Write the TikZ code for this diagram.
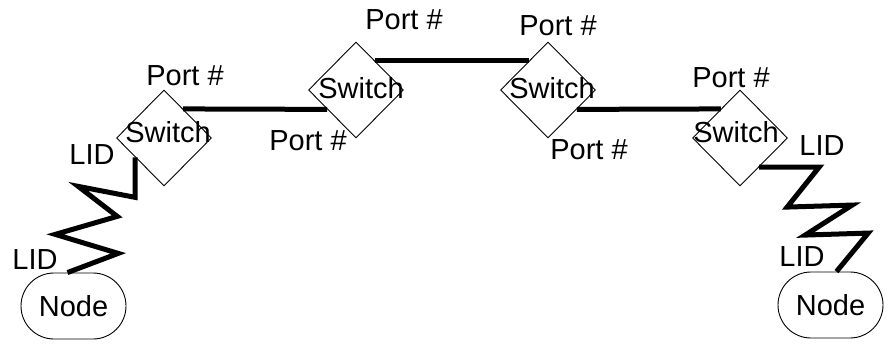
\documentclass[tikz,border=0pt]{standalone}
\usepackage{fontspec}
\setmainfont{Liberation Sans}
\usetikzlibrary{shapes.geometric,shapes.misc,calc}

\tikzset{
  switchbox/.style={draw, diamond, minimum width=95pt, minimum height=96pt, inner sep=0pt, line width=0.9pt},
  hostbox/.style={draw, rounded rectangle, minimum width=105pt, minimum height=66pt, inner sep=0pt, line width=0.9pt, font=\fontsize{29}{34}\selectfont},
  tag/.style={anchor=base, inner sep=0pt, font=\fontsize{29}{34}\selectfont},
  link/.style={line width=5pt},
}

\begin{document}
\begin{tikzpicture}[x=1pt, y=-1pt]
      \useasboundingbox (0,0) rectangle (891,343);
      % switches
      \foreach \n/\x/\y/\tx/\ty in {1/164/138/168/142, 2/356/90/361/98, 3/548/90/552/98, 4/740/138/736/142}
        {
        \node[switchbox] (s\n) at (\x,\y) {};
        \node[tag] (t\n) at (\tx,\ty) {Switch};
        }
      % end nodes
      \node[hostbox] (n1) at (73.5,306) {Node};
      \node[hostbox] (n2) at (830.5,305) {Node};
      % port links
      \draw[link] ($(s1.north)!0.4!(s1.east)$) -- ($(s2.west)!0.4!(s2.south)$);
      \draw[link] ($(s2.north)!0.4!(s2.east)$) -- ($(s3.north)!0.4!(s3.west)$);
      \draw[link] ($(s3.east)!0.4!(s3.south)$) -- ($(s4.north)!0.4!(s4.west)$);
      % LID links
      \draw[link] ($(s1.west)!0.4!(s1.south)$) -- ++(0,40) -- ++(-57,-11) -- ++(39,30)
        -- ++(-62,18) -- ++(63,19) -- ([xshift=-6pt]n1.north);
      \draw[link] ($(s4.east)!0.6!(s4.south)$) -- ++(60,0) -- ++(-32,40) -- ++(65,-2)
        -- ++(-47,30) -- ++(63,-2) -- ([xshift=6pt]n2.north);
      % port labels
      \node[tag] (p1) at (185,85) {Port \#};
      \node[tag] (p2) at (308,150) {Port \#};
      \node[tag] (p3) at (404,29) {Port \#};
      \node[tag] (p4) at (558,35) {Port \#};
      \node[tag] (p5) at (589,159) {Port \#};
      \node[tag] (p6) at (731,87) {Port \#};
      % LID labels
      \node[tag] (l1) at (92,164) {LID};
      \node[tag] (l2) at (35,269) {LID};
      \node[tag] (l3) at (822,155) {LID};
      \node[tag] (l4) at (802,266) {LID};
\end{tikzpicture}
\end{document}
